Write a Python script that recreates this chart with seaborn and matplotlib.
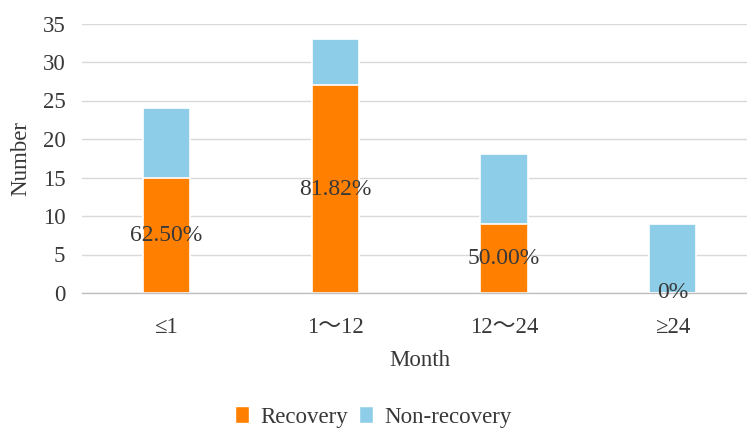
import matplotlib
matplotlib.use("Agg")
import matplotlib.pyplot as plt
from matplotlib.patches import Patch
import seaborn as sns
import pandas as pd

# Data
months = ["≤1", "1～12", "12～24", "≥24"]
recovery = [15, 27, 9, 0]
non_recovery = [9, 6, 9, 9]
rate_labels = ["62.50%", "81.82%", "50.00%", "0%"]

totals = [r + n for r, n in zip(recovery, non_recovery)]
df = pd.DataFrame({"Month": months, "Recovery": recovery,
                   "Non-recovery": non_recovery, "Total": totals})

sns.set_theme(style="white")
FONT = ["Liberation Serif", "Noto Sans CJK SC", "DejaVu Sans"]
plt.rcParams["font.family"] = FONT
TEXT = "#383838"
ORANGE = "#FF8000"
BLUE = "#8ECDE8"
FS = 16.5

fig = plt.figure(figsize=(7.47, 4.30), dpi=100)
W, H = 747, 430
ax = fig.add_axes([82 / W, 1 - 293 / H, (757 - 82) / W, (293 - 23.5) / H])

# Stacked bars: full height in blue, recovery part in orange on top of it
sns.barplot(data=df, x="Month", y="Total", color=BLUE, width=0.28,
            saturation=1, edgecolor="white", linewidth=1.2, ax=ax)
sns.barplot(data=df, x="Month", y="Recovery", color=ORANGE, width=0.28,
            saturation=1, edgecolor="white", linewidth=1.2, ax=ax)

# Recovery rate labels at the middle of the orange segment
for i, (r, lab) in enumerate(zip(recovery, rate_labels)):
    ax.text(i, r / 2, lab, ha="center", va="center", fontsize=17,
            color=TEXT, family=FONT)

ax.set_xlim(-0.5, 3.5)
ax.set_ylim(0, 35)
ax.set_yticks(range(0, 36, 5))
ax.yaxis.grid(True, color="#D9D9D9", linewidth=1)
ax.set_axisbelow(True)

for side in ["top", "right", "left"]:
    ax.spines[side].set_visible(False)
ax.spines["bottom"].set_color("#BFBFBF")
ax.spines["bottom"].set_linewidth(1)

ax.tick_params(axis="y", length=0, labelsize=FS, labelcolor=TEXT, pad=12)
ax.tick_params(axis="x", which="major", length=0, labelsize=FS,
               labelcolor=TEXT, pad=17)
ax.set_xticks([-0.5, 0.5, 1.5, 2.5, 3.5], minor=True)
ax.tick_params(axis="x", which="minor", length=6, color="#BFBFBF", width=1)

ax.set_xlabel("Month", fontsize=FS, color=TEXT, labelpad=9)
ax.set_ylabel("Number", fontsize=FS, color=TEXT, labelpad=8)

handles = [Patch(facecolor=ORANGE, label="Recovery"),
           Patch(facecolor=BLUE, label="Non-recovery")]
fig.legend(handles=handles, loc="center", bbox_to_anchor=(0.5, 1 - 417 / H),
           ncol=2, frameon=False, fontsize=FS, handlelength=0.6,
           handleheight=0.75, handletextpad=0.5, columnspacing=0.5,
           labelcolor=TEXT, borderpad=0.2)

fig.savefig("out.png", dpi=100)
